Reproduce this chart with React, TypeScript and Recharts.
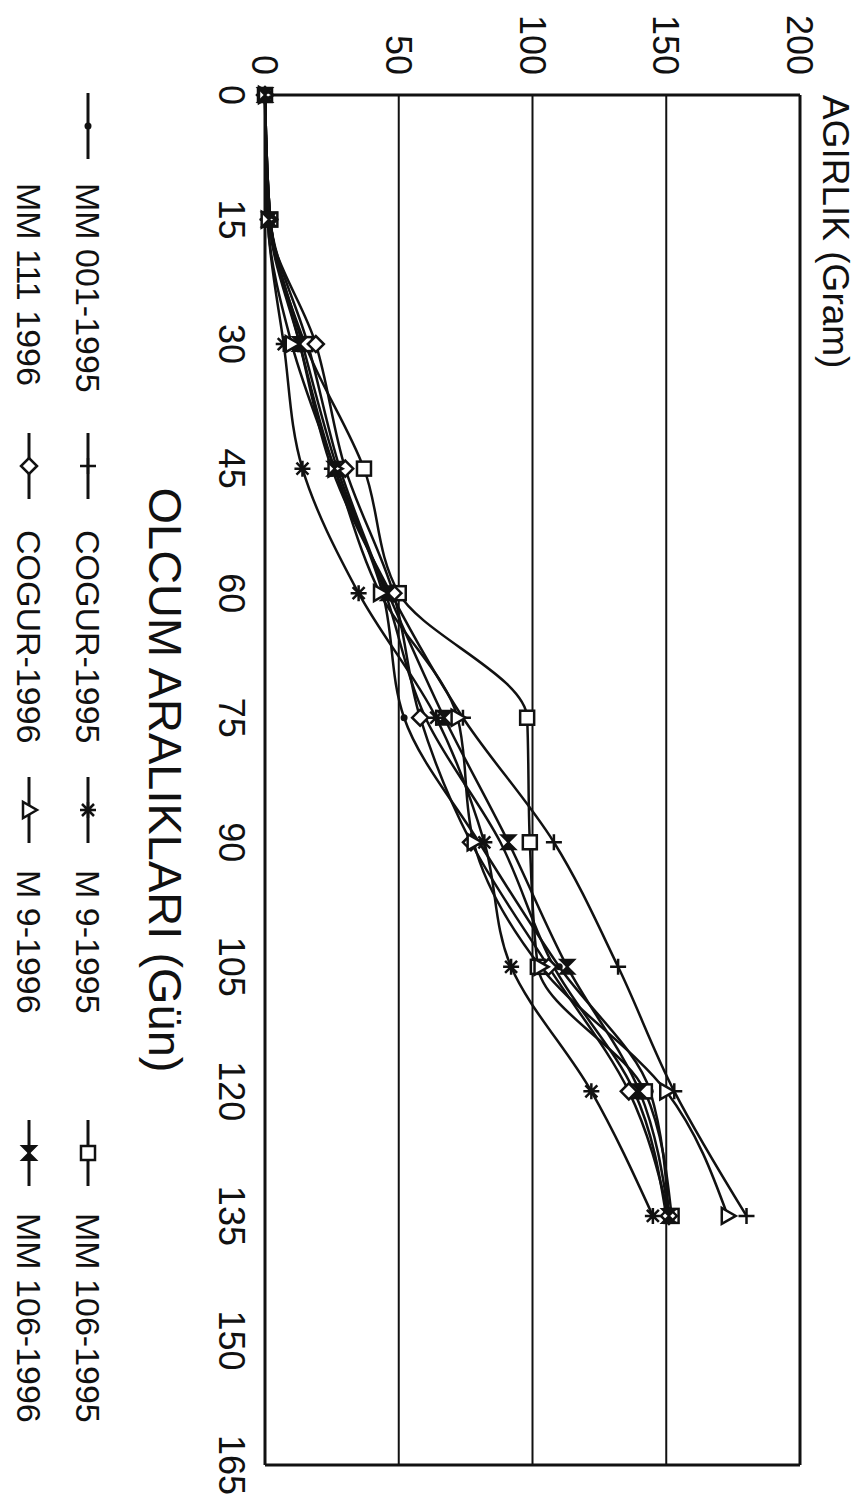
import { LineChart, Line, XAxis, YAxis, CartesianGrid, ReferenceLine } from 'recharts'

// measurement days (x) and weight (y, gram)
const days = [0, 15, 30, 45, 60, 75, 90, 105, 120, 135]
const dayTicks = [0, 15, 30, 45, 60, 75, 90, 105, 120, 135, 150, 165]
const weightTicks = [0, 50, 100, 150, 200]

const mm001_1995 = [0, 2, 14, 27, 44, 52, 80, 110, 144, 151]
const cogur_1995 = [0, 2, 13, 25, 47, 74, 108, 132, 153, 180]
const m9_1995 = [0, 1, 7, 14, 35, 64, 82, 92, 122, 145]
const mm106_1995 = [0, 2, 15, 37, 50, 98, 99, 102, 142, 152]
const mm111_1996 = [0, 2, 16, 28, 45, 60, 88, 108, 138, 150]
const cogur_1996 = [0, 1.5, 19, 30, 48, 58, 77, 106, 136, 151]
const m9_1996 = [0, 1, 10, 26, 43, 72, 78, 103, 150, 173]
const mm106_1996 = [0, 1.5, 13, 26, 46, 67, 91, 113, 140, 151]

const INK = '#111'
const FONT = '"Liberation Sans", Arial, sans-serif'
const W = 1504
const H = 857

type Shape = 'dot' | 'plus' | 'star' | 'square' | 'diamond' | 'triangle' | 'bowtie' | 'none'

const series: { key: string; name: string; values: number[]; shape: Shape }[] = [
  { key: 'mm001_1995', name: 'MM 001-1995', values: mm001_1995, shape: 'dot' },
  { key: 'cogur_1995', name: 'COGUR-1995', values: cogur_1995, shape: 'plus' },
  { key: 'm9_1995', name: 'M 9-1995', values: m9_1995, shape: 'star' },
  { key: 'mm106_1995', name: 'MM 106-1995', values: mm106_1995, shape: 'square' },
  { key: 'mm111_1996', name: 'MM 111 1996', values: mm111_1996, shape: 'none' },
  { key: 'cogur_1996', name: 'COGUR-1996', values: cogur_1996, shape: 'diamond' },
  { key: 'm9_1996', name: 'M 9-1996', values: m9_1996, shape: 'triangle' },
  { key: 'mm106_1996', name: 'MM 106-1996', values: mm106_1996, shape: 'bowtie' },
]

const data = days.map((day, i) => {
  const row: Record<string, number> = { day }
  series.forEach((s) => {
    row[s.key] = s.values[i]
  })
  return row
})

function Marker({ shape, cx, cy }: { shape: Shape; cx: number; cy: number }) {
  const s = 8
  switch (shape) {
    case 'dot':
      return <circle cx={cx} cy={cy} r={3.5} fill={INK} />
    case 'plus':
      return <path d={`M${cx - s},${cy}H${cx + s}M${cx},${cy - s}V${cy + s}`} stroke={INK} strokeWidth={2.5} fill="none" />
    case 'star':
      return (
        <path
          d={`M${cx - s},${cy}H${cx + s}M${cx},${cy - s}V${cy + s}M${cx - 6},${cy - 6}L${cx + 6},${cy + 6}M${cx - 6},${cy + 6}L${cx + 6},${cy - 6}`}
          stroke={INK}
          strokeWidth={2.5}
          fill="none"
        />
      )
    case 'square':
      return <rect x={cx - 7} y={cy - 7} width={14} height={14} stroke={INK} strokeWidth={2.5} fill="#fff" />
    case 'diamond':
      return <path d={`M${cx},${cy - s}L${cx + s},${cy}L${cx},${cy + s}L${cx - s},${cy}Z`} stroke={INK} strokeWidth={2.5} fill="#fff" />
    case 'triangle':
      return <path d={`M${cx},${cy - s}L${cx + s},${cy + 6}L${cx - s},${cy + 6}Z`} stroke={INK} strokeWidth={2.5} fill="#fff" />
    case 'bowtie':
      return <path d={`M${cx - 7},${cy - 7}L${cx + 7},${cy + 7}L${cx + 7},${cy - 7}L${cx - 7},${cy + 7}Z`} stroke={INK} strokeWidth={2} fill={INK} />
    default:
      return <g />
  }
}

const legendCols = [93, 433, 777, 1120]
const legendLabels = [183, 530, 870, 1213]
const legendRows = [769, 828]

export default function App() {
  return (
    <div style={{ position: 'absolute', left: 0, top: 0, width: H, height: W, overflow: 'hidden', background: '#fff' }}>
      <div
        style={{
          position: 'absolute',
          left: 0,
          top: 0,
          width: W,
          height: H,
          transformOrigin: 'top left',
          transform: `translateX(${H}px) rotate(90deg)`,
        }}
      >
        <LineChart width={W} height={H} data={data} margin={{ top: 57, right: 39, left: 0, bottom: 135 }}>
          <CartesianGrid horizontal vertical={false} stroke={INK} strokeWidth={2} />
          <XAxis
            dataKey="day"
            type="number"
            domain={[0, 165]}
            ticks={dayTicks}
            height={130}
            tickSize={0}
            tickMargin={20}
            axisLine={{ stroke: INK, strokeWidth: 3 }}
            tick={{ fill: INK, fontSize: 36, fontFamily: FONT }}
            label={{ value: 'OLCUM ARALIKLARI (Gün)', position: 'insideBottom', offset: 14, fill: INK, fontSize: 47, fontFamily: FONT }}
          />
          <YAxis
            type="number"
            domain={[0, 200]}
            ticks={weightTicks}
            width={95}
            tickSize={0}
            tickMargin={20}
            axisLine={{ stroke: INK, strokeWidth: 3 }}
            tick={{ fill: INK, fontSize: 36, fontFamily: FONT }}
          />
          <ReferenceLine y={200} stroke={INK} strokeWidth={3} />
          <ReferenceLine x={165} stroke={INK} strokeWidth={3} />
          {series.map((s) => (
            <Line
              key={s.key}
              dataKey={s.key}
              name={s.name}
              type="monotone"
              stroke={INK}
              strokeWidth={2.5}
              isAnimationActive={false}
              activeDot={false}
              dot={(p: any) => <Marker key={`${s.key}-${p.index}`} shape={s.shape} cx={p.cx} cy={p.cy} />}
            />
          ))}
        </LineChart>
        <svg width={W} height={H} style={{ position: 'absolute', left: 0, top: 0, pointerEvents: 'none' }}>
          <text x={95} y={34} fontSize={37} fontFamily={FONT} fill={INK}>
            AGIRLIK (Gram)
          </text>
          {series.map((s, i) => {
            const row = Math.floor(i / 4)
            const col = i % 4
            const y = legendRows[row]
            const x0 = legendCols[col]
            return (
              <g key={s.key}>
                {s.shape !== 'none' && (
                  <>
                    <line x1={x0} x2={x0 + 66} y1={y} y2={y} stroke={INK} strokeWidth={3} />
                    <Marker shape={s.shape} cx={x0 + 33} cy={y} />
                  </>
                )}
                <text x={legendLabels[col]} y={y + 12} fontSize={34} fontFamily={FONT} fill={INK}>
                  {s.name}
                </text>
              </g>
            )
          })}
        </svg>
      </div>
    </div>
  )
}
